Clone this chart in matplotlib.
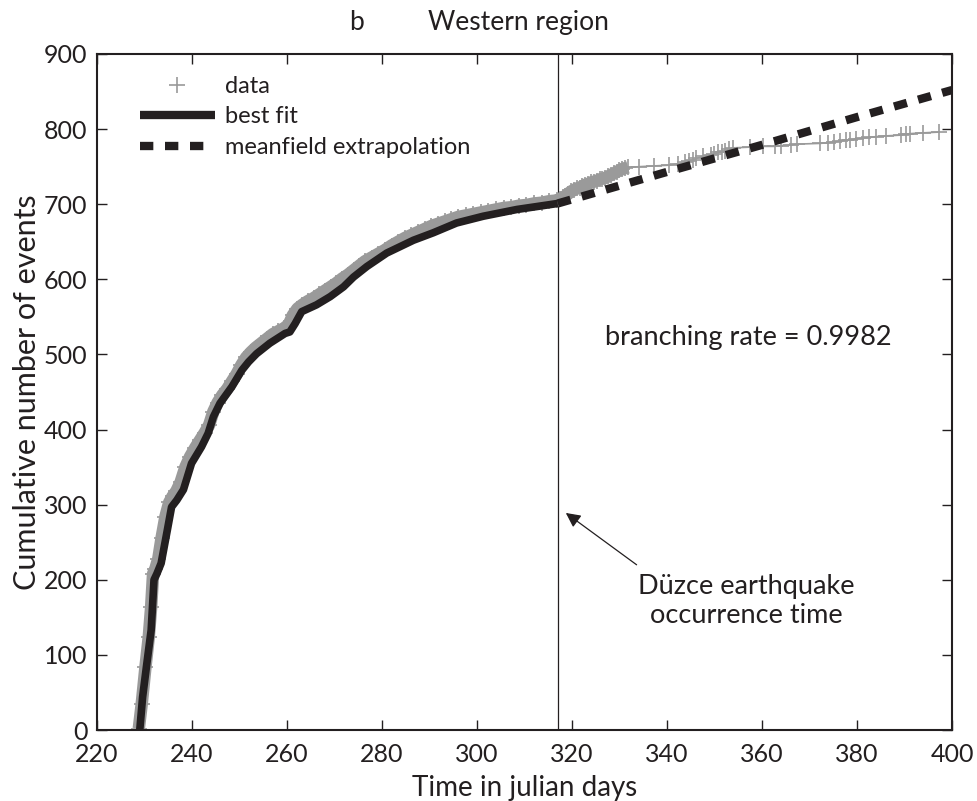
import matplotlib
matplotlib.use("Agg")
import matplotlib.pyplot as plt
from matplotlib import font_manager
from matplotlib.lines import Line2D

# ---- data -------------------------------------------------------------
# best fit (cumulative number of events vs time in julian days)
fit_t = [229.0, 229.6, 230.5, 231.4, 232.0, 232.6, 233.5, 234.8, 235.7, 236.8,
         238.2, 239.9, 242.0, 243.4, 244.5, 245.9, 248.4, 250.5, 251.9, 253.6,
         256.4, 259.6, 260.6, 261.7, 263.1, 266.2, 269.1, 271.9, 274.0, 276.8,
         281.0, 286.6, 290.8, 295.7, 301.3, 308.4, 317.0]
fit_n = [0, 44, 89, 133, 200, 208, 222, 266, 297, 306,
         320, 355, 377, 395, 417, 435, 457, 479, 490, 501,
         515, 528, 530, 541, 557, 566, 577, 590, 603, 617,
         635, 652, 662, 675, 684, 693, 701]

# meanfield extrapolation beyond the Duzce mainshock
ext_t = [317.0, 340.0, 360.0, 380.0, 400.0]
ext_n = [701, 743, 779, 816, 852]

# observed events
data_t = [228.8, 229.4, 230.2, 230.9, 231.4, 231.8, 232.3, 232.9, 233.6, 234.4,
          235.2, 235.9, 236.7, 237.6, 238.6, 239.6, 240.7, 241.7, 242.7, 243.6,
          244.5, 245.4, 246.4, 247.4, 248.4, 249.4, 250.4, 251.4, 252.4, 253.4,
          254.6, 255.8, 257.0, 258.2, 259.4, 260.4, 261.2, 262.2, 263.2, 264.4,
          265.6, 266.8, 268.0, 269.2, 270.4, 271.6, 272.8, 274.0, 275.2, 276.4,
          277.8, 279.2, 280.6, 282.0, 283.4, 284.8, 286.2, 287.6, 289.0, 290.4,
          291.8, 293.2, 294.6, 296.0, 297.6, 299.2, 300.8, 302.4, 304.0, 305.6,
          307.2, 308.8, 310.4, 312.0, 313.6, 315.2, 316.8,
          317.4, 318.0, 318.6, 319.2, 319.8, 320.4, 321.0, 321.6, 322.2, 322.8,
          323.4, 324.0, 324.6, 325.2, 325.8, 326.4, 327.0, 327.6, 328.2, 328.8,
          329.4, 330.0, 330.6, 331.2, 331.8, 334.2, 337.3, 340.5, 342.4, 343.8,
          344.6, 345.4, 346.2, 347.6, 349.2, 350.0, 350.8, 351.5, 352.3, 353.0,
          353.8, 357.5, 360.2, 362.7, 364.0, 366.2, 367.3, 372.3, 374.0, 375.2,
          376.4, 377.6, 378.6, 379.8, 381.2, 382.6, 384.0, 386.2, 389.3, 390.3,
          391.2, 393.9, 397.2]
data_n = [2, 34, 84, 124, 164, 208, 215, 228, 256, 284,
          303, 311, 318, 330, 350, 364, 376, 386, 396, 406,
          424, 436, 446, 454, 464, 474, 486, 496, 503, 509,
          515, 521, 527, 531, 535, 540, 552, 561, 566, 571,
          575, 580, 585, 590, 595, 601, 606, 612, 618, 624,
          629, 634, 639, 645, 650, 655, 659, 663, 667, 671,
          674, 677, 680, 683, 685, 687, 689, 691, 693, 695,
          696, 698, 699, 701, 702, 704, 705,
          707, 709, 711, 714, 717, 719, 721, 722, 724, 726,
          727, 729, 730, 731, 733, 734, 735, 737, 739, 741,
          743, 745, 747, 748, 749, 750, 751, 752, 754, 756,
          758, 759, 761, 764, 766, 767, 769, 770, 771, 773,
          775, 776, 777, 777, 778, 779, 780, 781, 782, 783,
          784, 785, 786, 787, 788, 789, 790, 791, 792, 793,
          794, 795, 796]

duzce_day = 317.0
branching_rate = 0.9982

# ---- fonts ------------------------------------------------------------
available = {f.name for f in font_manager.fontManager.ttflist}
main_font = "Lato" if "Lato" in available else "DejaVu Sans"
plt.rcParams["font.family"] = [main_font, "DejaVu Sans"]

ink = "#231f20"
grey = "#9a9a9a"

fig = plt.figure(figsize=(9.77, 8.01), dpi=100)
ax = fig.add_axes([0.0993, 0.0886, 0.8751, 0.8440])

# observed data: dense band up to shortly after the mainshock, plus markers
dense_t = [t for t in data_t if t <= 332]
dense_n = data_n[:len(dense_t)]
ax.plot(dense_t, dense_n, color=grey, lw=9, solid_capstyle="butt", zorder=2)
ax.plot(data_t, data_n, color=grey, lw=1.2, marker="+", ms=11, mew=1.2, zorder=2)

# best fit and extrapolation
ax.plot(fit_t, fit_n, color=ink, lw=5.5, solid_capstyle="butt", zorder=3)
ax.plot(ext_t, ext_n, color=ink, lw=6, dashes=(1.6, 1.4),
        dash_capstyle="butt", zorder=3)

# mainshock time
ax.axvline(duzce_day, color=ink, lw=0.9, zorder=1)

ax.set_xlim(220, 400)
ax.set_ylim(0, 900)
ax.set_xticks(range(220, 401, 20))
ax.set_yticks(range(0, 901, 100))
ax.tick_params(direction="in", length=7, width=1.0, top=True, right=True,
               labelsize=18, colors=ink)
ax.tick_params(axis="x", pad=9)
ax.tick_params(axis="y", pad=7)
for s in ax.spines.values():
    s.set_linewidth(1.5)
    s.set_color(ink)

ax.set_xlabel("Time in julian days", fontsize=20, color=ink, labelpad=7)
ax.set_ylabel("Cumulative number of events", fontsize=22, color=ink, labelpad=2)

fig.text(0.365, 0.972, "b", fontsize=19, color=ink, ha="center", va="center")
fig.text(0.531, 0.972, "Western region", fontsize=19, color=ink,
         ha="center", va="center")

ax.text(357.1, 523, f"branching rate = {branching_rate}", fontsize=19.5,
        color=ink, ha="center", va="center")
ax.text(356.6, 172, "Düzce earthquake\noccurrence time", fontsize=19.5,
        color=ink, ha="center", va="center", linespacing=1.2)
ax.annotate("", xy=(318.7, 289), xytext=(333.6, 220),
            arrowprops=dict(arrowstyle="-|>", color=ink, lw=0.9,
                            mutation_scale=22, shrinkA=0, shrinkB=0))

handles = [
    Line2D([], [], color=grey, marker="+", ls="none", ms=11, mew=1.2),
    Line2D([], [], color=ink, lw=6, solid_capstyle="butt"),
    Line2D([], [], color=ink, lw=6, dashes=(1.6, 1.4), dash_capstyle="butt"),
]
ax.legend(handles, ["data", "best fit", "meanfield extrapolation"],
          loc="upper left", bbox_to_anchor=(0.025, 0.999), frameon=False,
          fontsize=17, handlelength=3.2, handletextpad=0.4,
          labelspacing=0.4, labelcolor=ink)

fig.savefig("out.png", dpi=100)
